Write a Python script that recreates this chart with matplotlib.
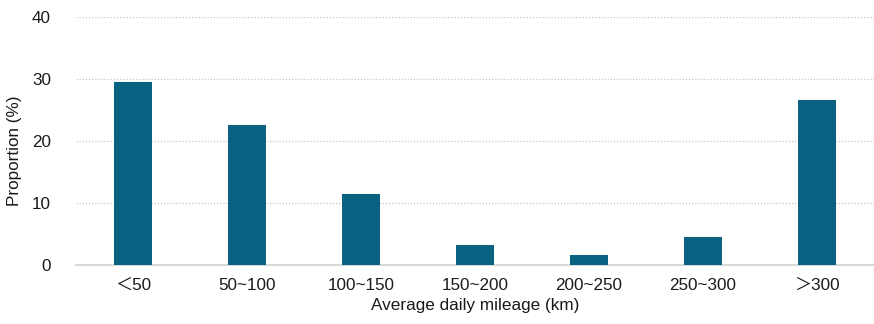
import numpy as np
import matplotlib
matplotlib.use('Agg')
import matplotlib.pyplot as plt

plt.rcParams['font.family'] = ['Liberation Sans', 'Noto Sans CJK SC', 'DejaVu Sans']

# data
categories = ['＜50', '50~100', '100~150', '150~200', '200~250', '250~300', '＞300']
proportion = [29.5, 22.6, 11.45, 3.2, 1.6, 4.5, 26.6]
yticks = [0, 10, 20, 30, 40]

bar_color = '#0a6282'
fs = 12.3

fig = plt.figure(figsize=(8.74, 3.24), dpi=100)
ax = fig.add_axes([0.087, 0.182, 0.913, 0.7655])

x = np.arange(len(categories))
ax.bar(x, proportion, width=0.33, color=bar_color, zorder=3)

ax.set_xlim(-0.5, len(categories) - 0.5)
ax.set_ylim(0, 40)
ax.set_yticks(yticks)
ax.set_xticks(x)
ax.set_xticklabels(categories)

# dotted horizontal grid
ax.grid(axis='y', linestyle=(0, (1, 1.5)), color='#c8c8c8', linewidth=0.9, zorder=0)
for s in ['top', 'right', 'left']:
    ax.spines[s].set_visible(False)
ax.spines['bottom'].set_color('#d9d9d9')
ax.spines['bottom'].set_linewidth(1.5)
ax.tick_params(axis='both', length=0, labelsize=fs, colors='#1a1a1a')
ax.tick_params(axis='x', pad=9)
ax.tick_params(axis='y', pad=18)

ax.set_xlabel('Average daily mileage (km)', fontsize=fs, color='#1a1a1a', labelpad=4)
ax.set_ylabel('Proportion (%)', fontsize=fs, color='#1a1a1a')
ax.yaxis.set_label_coords(-0.068, 0.46)

fig.savefig('out.png', dpi=100)
